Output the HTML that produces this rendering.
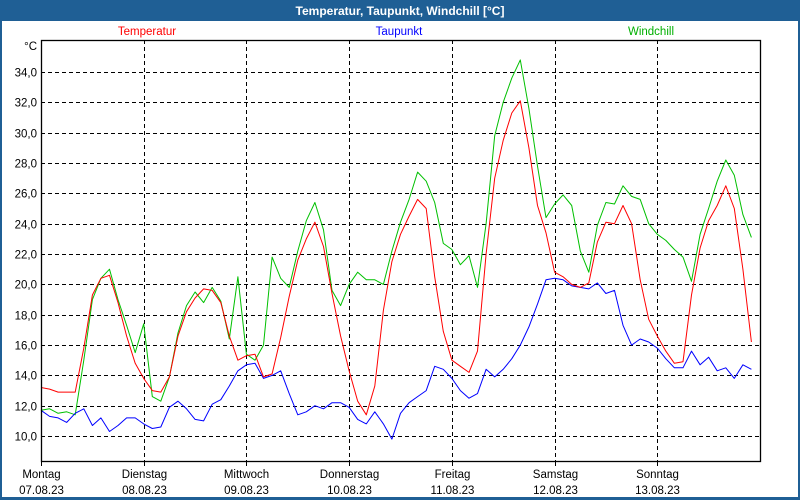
<!DOCTYPE html>
<html><head><meta charset="utf-8"><style>
html,body{margin:0;padding:0;background:#fff}
svg{display:block;font-family:"Liberation Sans",sans-serif}
</style></head><body>
<svg id="chart" width="800" height="500" viewBox="0 0 800 500">
<rect x="0" y="0" width="800" height="500" fill="#1f5f95"/>
<rect x="2" y="21" width="796" height="476" fill="#fff"/>
<text x="400" y="15" text-anchor="middle" fill="#fff" font-size="12" font-weight="bold">Temperatur, Taupunkt, Windchill [°C]</text>
<text x="147" y="35" text-anchor="middle" fill="#ff0000" font-size="11.5">Temperatur</text>
<text x="399" y="35" text-anchor="middle" fill="#0000ff" font-size="11.5">Taupunkt</text>
<text x="651" y="35" text-anchor="middle" fill="#00b000" font-size="11.5">Windchill</text>
<text x="37" y="50" text-anchor="end" fill="#000" font-size="11.5">°C</text>
<g id="grid"></g>
<g id="series"></g>
<g id="axes"></g>
</svg>
<script>
const dayNames = ["Montag","Dienstag","Mittwoch","Donnerstag","Freitag","Samstag","Sonntag"];
const dayDates = ["07.08.23","08.08.23","09.08.23","10.08.23","11.08.23","12.08.23","13.08.23"];
const yTicks = [10,12,14,16,18,20,22,24,26,28,30,32,34];
const stepHours = 2;
const temperatur = [13.2,13.1,12.9,12.9,12.9,15.8,19.3,20.4,20.6,18.8,16.6,14.8,
13.8,13.0,12.9,13.9,16.6,18.2,19.1,19.7,19.6,18.8,16.6,15.0,
15.3,15.4,13.9,14.1,16.5,19.2,21.6,23.0,24.1,22.5,19.4,16.6,
14.3,12.3,11.4,13.3,18.3,21.5,23.3,24.5,25.6,25.0,20.5,16.9,
15.0,14.6,14.2,15.6,22.0,27.0,29.5,31.3,32.1,29.0,25.2,23.4,
20.8,20.5,20.0,19.8,20.1,22.8,24.1,24.0,25.2,24.0,20.3,17.7,
16.6,15.6,14.8,14.9,19.3,22.4,24.2,25.2,26.5,25.0,21.0,16.2];
const taupunkt = [11.7,11.3,11.2,10.9,11.5,11.8,10.7,11.2,10.3,10.7,11.2,11.2,
10.8,10.5,10.6,11.9,12.3,11.8,11.1,11.0,12.1,12.4,13.3,14.3,
14.7,14.8,13.8,14.0,14.3,12.8,11.4,11.6,12.0,11.8,12.2,12.2,
11.9,11.1,10.8,11.6,10.8,9.8,11.5,12.2,12.6,13.0,14.6,14.4,
13.8,13.0,12.5,12.8,14.4,13.9,14.4,15.1,16.0,17.2,18.7,20.3,
20.4,20.3,19.9,19.8,19.7,20.1,19.4,19.6,17.3,16.0,16.4,16.2,
15.8,15.1,14.5,14.5,15.6,14.7,15.2,14.3,14.5,13.8,14.7,14.4];
const windchill = [11.7,11.8,11.5,11.6,11.4,15.0,19.0,20.4,21.0,19.0,17.3,15.5,
17.4,12.6,12.3,13.9,16.8,18.6,19.5,18.8,19.8,18.9,16.4,20.5,
15.4,15.0,16.0,21.8,20.4,19.8,22.2,24.2,25.4,23.6,19.6,18.6,
20.0,20.8,20.3,20.3,20.0,22.2,24.1,25.6,27.4,26.8,25.4,22.7,
22.3,21.3,21.9,19.8,24.0,29.8,32.0,33.6,34.8,31.6,27.8,24.4,
25.3,25.9,25.2,22.2,20.8,23.9,25.4,25.3,26.5,25.8,25.6,24.0,
23.3,22.9,22.3,21.8,20.2,23.3,25.0,26.8,28.2,27.2,24.6,23.1];

const NS="http://www.w3.org/2000/svg";
const L=41,R=760,T=40,B=461;
const dayW=(R-L)/7;
function xScale(h){return L+h/24*dayW;}
function yScale(v){return 72+(34-v)*15.17;}
function mk(tag,attrs,parent){const e=document.createElementNS(NS,tag);for(const k in attrs)e.setAttribute(k,attrs[k]);parent.appendChild(e);return e;}
const grid=document.getElementById('grid'),axes=document.getElementById('axes'),series=document.getElementById('series');
yTicks.forEach(v=>{
  const y=Math.round(yScale(v))+0.5;
  const ln=mk('line',{x1:L,x2:R,y1:y,y2:y,stroke:'#000','stroke-dasharray':'4,3','stroke-width':1},grid);
  
  
  const t=mk('text',{x:37,y:y+4,'text-anchor':'end','font-size':'11.5',fill:'#000'},axes);
  t.textContent=v.toFixed(1).replace('.',',');
  
  
});
dayNames.forEach((d,i)=>{
  const x=Math.round(xScale(i*24))+0.5;
  if(i>0){
    const ln=mk('line',{x1:x,x2:x,y1:T,y2:B,stroke:'#000','stroke-dasharray':'4,3','stroke-width':1},grid);
    
    
  }
  const tk=mk('line',{x1:x,x2:x,y1:B,y2:B+5,stroke:'#000'},axes);
  
  
  const t1=mk('text',{x:x,y:478,'text-anchor':'middle','font-size':'11.5',fill:'#000'},axes);
  t1.textContent=d;
  
  
  const t2=mk('text',{x:x,y:494,'text-anchor':'middle','font-size':'11.5',fill:'#000'},axes);
  t2.textContent=dayDates[i];
  
  
});
const frame=mk('rect',{x:L+0.5,y:T+0.5,width:R-L,height:B-T,fill:'none',stroke:'#000','stroke-width':1.3},axes);


function drawLine(vals,color,name){
  const pts=vals.map((v,i)=>xScale(i*stepHours).toFixed(1)+','+yScale(v).toFixed(1)).join(' ');
  const p=mk('polyline',{points:pts,fill:'none',stroke:color,'stroke-width':1,'stroke-linejoin':'round'},series);
  
  
}
drawLine(windchill,'#00c000','windchill-line');
drawLine(taupunkt,'#0000ff','taupunkt-line');
drawLine(temperatur,'#ff0000','temperatur-line');
</script>
</body></html>
